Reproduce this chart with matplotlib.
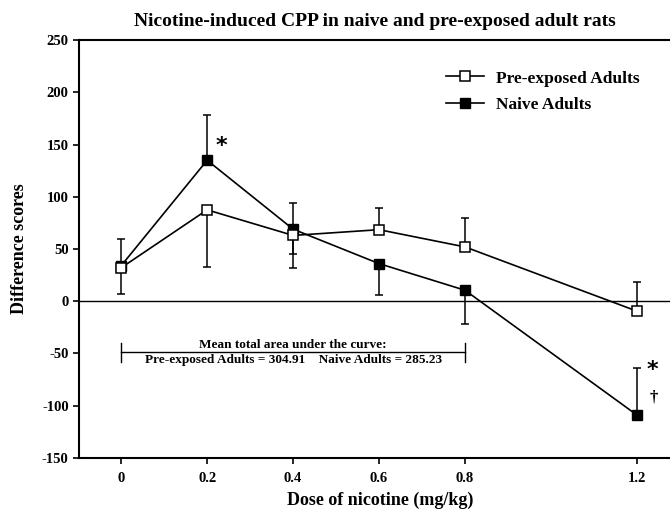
import matplotlib
matplotlib.use("Agg")
import matplotlib.pyplot as plt
import numpy as np

plt.rcParams['font.family'] = ['Liberation Serif', 'DejaVu Serif']
plt.rcParams['font.weight'] = 'bold'
plt.rcParams['axes.unicode_minus'] = False

doses = [0, 0.2, 0.4, 0.6, 0.8, 1.2]
xtick_labels = ['0', '0.2', '0.4', '0.6', '0.8', '1.2']

pre_exposed = [32, 87.5, 63, 68.5, 52, -9.5]
pre_err_low = [0, 55, 31, 0, 0, 0]
pre_err_high = [28, 0, 0, 21, 28, 28]

naive = [34, 135, 69, 36, 10.5, -109]
naive_err_low = [27, 0, 24, 30, 32, 0]
naive_err_high = [0, 43.5, 25.5, 0, 0, 45]

yticks = [-150, -100, -50, 0, 50, 100, 150, 200, 250]

fig = plt.figure(figsize=(6.7, 5.15), dpi=100)
ax = fig.add_axes([0.118, 0.111, 0.882, 0.811])

ax.axhline(0, color='black', lw=1.0, zorder=1)

ax.errorbar(doses, pre_exposed, yerr=[pre_err_low, pre_err_high], fmt='none',
            ecolor='black', elinewidth=1.1, capsize=3.2, capthick=1.1, zorder=2)
ax.errorbar(doses, naive, yerr=[naive_err_low, naive_err_high], fmt='none',
            ecolor='black', elinewidth=1.1, capsize=3.2, capthick=1.1, zorder=2)

ax.plot(doses, pre_exposed, '-s', color='black', lw=1.2, markersize=6.5,
        markerfacecolor='white', markeredgecolor='black', markeredgewidth=1.1,
        label='Pre-exposed Adults', zorder=4)
ax.plot(doses, naive, '-s', color='black', lw=1.2, markersize=6.5,
        markerfacecolor='black', markeredgecolor='black',
        label='Naive Adults', zorder=3)

ax.set_xlim(-0.098, 1.277)
ax.set_ylim(-150, 250)
ax.set_xticks(doses)
ax.set_xticklabels(xtick_labels)
ax.set_yticks(yticks)
ax.tick_params(axis='both', direction='out', length=4, width=1.2, labelsize=10.5)
ax.tick_params(axis='x', pad=6)
for lbl in ax.get_xticklabels() + ax.get_yticklabels():
    lbl.set_fontweight('bold')

for s in ['left', 'bottom', 'top']:
    ax.spines[s].set_linewidth(1.5)
ax.spines['right'].set_visible(False)

ax.set_title('Nicotine-induced CPP in naive and pre-exposed adult rats',
             fontsize=14, fontweight='bold', pad=10)
fig.text(380 / 670, 1 - 500 / 515, 'Dose of nicotine (mg/kg)', ha='center',
         va='center', fontsize=13, fontweight='bold')
ax.set_ylabel('Difference scores', fontsize=13, fontweight='bold', labelpad=10)

leg = ax.legend(loc='upper right', bbox_to_anchor=(0.975, 0.965), frameon=False,
                handlelength=2.2, handletextpad=0.7, labelspacing=0.6,
                prop={'weight': 'bold', 'size': 12.5})

# Area-under-curve bracket
ax.plot([0, 0.8], [-49, -49], color='black', lw=1.0)
ax.plot([0, 0], [-40, -58], color='black', lw=1.0)
ax.plot([0.8, 0.8], [-40, -58], color='black', lw=1.0)
ax.text(0.4, -48, 'Mean total area under the curve:', ha='center', va='bottom',
        fontsize=9.5, fontweight='bold')
ax.text(0.4, -51, 'Pre-exposed Adults = 304.91    Naive Adults = 285.23',
        ha='center', va='top', fontsize=9.5, fontweight='bold')

# Significance markers
ax.text(0.234, 149, '*', ha='center', va='center', fontsize=16, fontweight='bold',
        family='DejaVu Sans')
ax.text(1.237, -66, '*', ha='center', va='center', fontsize=16, fontweight='bold',
        family='DejaVu Sans')
ax.text(1.239, -92, '\u2020', ha='center', va='center', fontsize=12)

fig.savefig('out.png', dpi=100)
